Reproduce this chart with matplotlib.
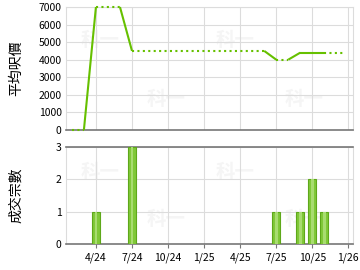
import matplotlib
matplotlib.use("Agg")
import matplotlib.pyplot as plt

plt.rcParams['font.family'] = ['Noto Sans CJK TC', 'DejaVu Sans']

# months counted from Jan 2024 (0)
price_months = [1, 2, 3, 5, 6, 17, 18, 19, 20, 21, 22, 23.75]
price_values = [0, 0, 7000, 7000, 4500, 4500, 4000, 4000, 4400, 4400, 4400, 4400]
# True = segment ending at that point is solid (month had deals)
solid = [False, True, False, True, False, True, False, True, True, True, False]

deal_months = [3, 6, 18, 20, 21, 22]
deal_counts = [1, 3, 1, 1, 2, 1]

tick_months = [3, 6, 9, 12, 15, 18, 21, 24]
tick_labels = ["4/24", "7/24", "10/24", "1/25", "4/25", "7/25", "10/25", "1/26"]

green = "#66c000"
grid_c = "#dcdcdc"
fs = 7.5

fig = plt.figure(figsize=(3.6, 2.7), dpi=100)
ax1 = fig.add_axes([0.183, 0.519, 0.798, 0.455])
ax2 = fig.add_axes([0.183, 0.096, 0.798, 0.360])

for ax in (ax1, ax2):
    ax.set_xlim(0.5, 24.4)
    ax.set_xticks(tick_months)
    ax.grid(True, color=grid_c, linewidth=0.8)
    ax.set_axisbelow(True)
    for s in ("top", "right", "left"):
        ax.spines[s].set_color(grid_c)
    ax.spines["bottom"].set_color("#777777")
    ax.spines["bottom"].set_linewidth(1.2)
    ax.tick_params(axis="y", length=0, labelsize=fs, pad=3)

# faint watermark
for ax in (ax1, ax2):
    for px, py in [(0.05, 0.68), (0.28, 0.2), (0.52, 0.68), (0.76, 0.2)]:
        ax.text(px, py, "科一", transform=ax.transAxes, fontsize=14,
                color="#f5f5f5", fontweight="bold", zorder=0)

# price line
for i in range(len(price_months) - 1):
    xs = price_months[i:i + 2]
    ys = price_values[i:i + 2]
    if solid[i]:
        ax1.plot(xs, ys, color=green, linewidth=1.5, solid_capstyle="butt",
                 clip_on=False, zorder=3)
    else:
        ax1.plot(xs, ys, color=green, linewidth=1.5, linestyle=(0, (1, 1.6)),
                 clip_on=False, zorder=3)
ax1.set_ylim(0, 7000)
ax1.set_yticks(range(0, 7001, 1000))
ax1.tick_params(axis="x", length=0, labelbottom=False)
ax1.set_ylabel("平均呎價", fontsize=10)
ax1.yaxis.set_label_coords(-0.15, 0.5)

# deal bars
ax2.bar(deal_months, deal_counts, width=0.68, color="#80c838",
        edgecolor="#5ea81a", linewidth=0.8, zorder=3)
ax2.bar(deal_months, deal_counts, width=0.22, color="#a8dc70", linewidth=0,
        zorder=3)
ax2.spines["top"].set_color("#777777")
ax2.spines["top"].set_linewidth(1.2)
ax2.set_ylim(0, 3)
ax2.set_yticks([0, 1, 2, 3])
ax2.set_xticklabels(tick_labels, fontsize=fs)
ax2.tick_params(axis="x", length=3, color="#777777", pad=3)
ax2.set_ylabel("成交宗數", fontsize=10)
ax2.yaxis.set_label_coords(-0.15, 0.5)

fig.savefig("out.png", dpi=100)
